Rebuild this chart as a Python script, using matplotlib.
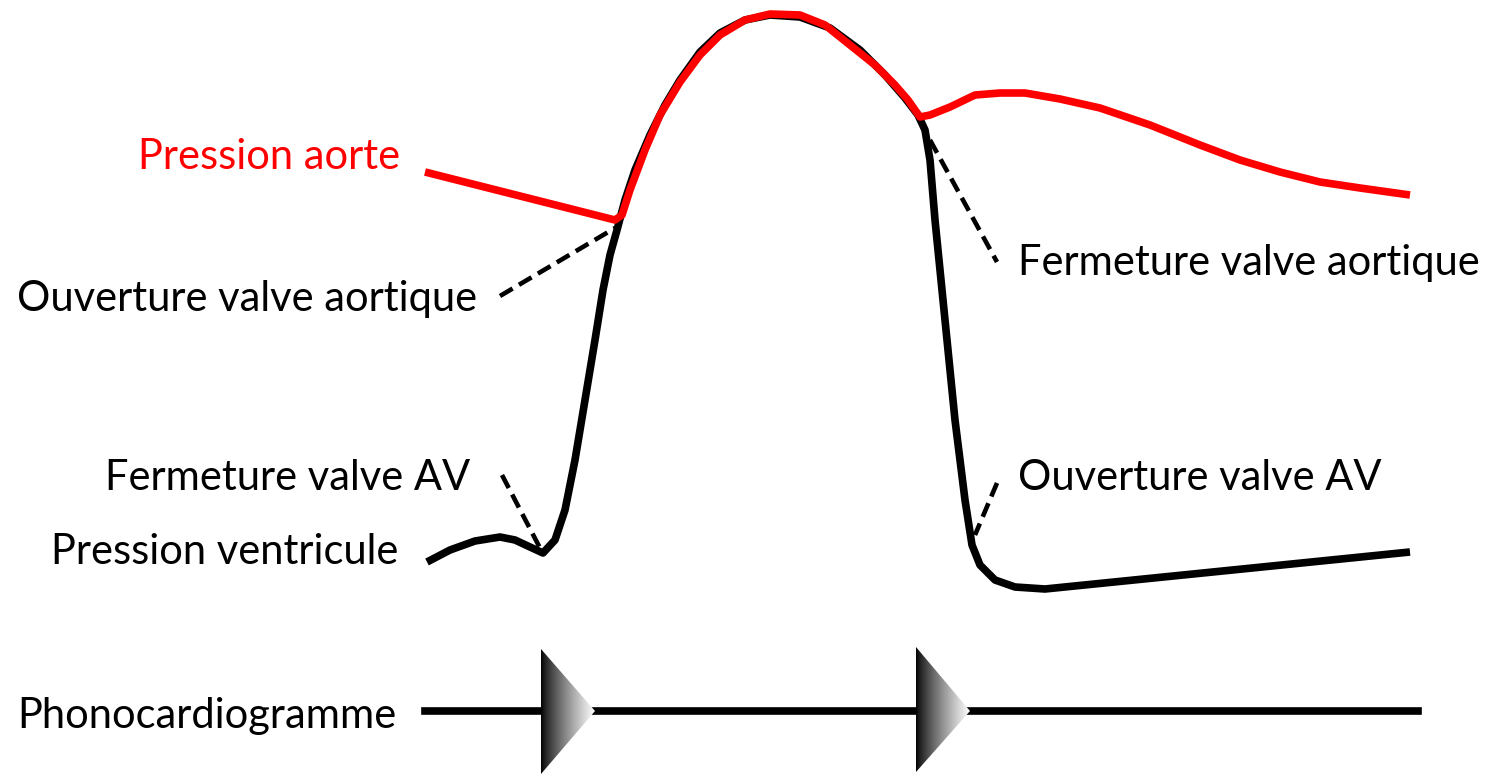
import numpy as np
import matplotlib.pyplot as plt
from matplotlib.patches import Polygon

plt.rcParams['font.family'] = ['Lato', 'DejaVu Sans']

# traced curves (pixel coordinates of the original picture, y downward)
ventricle_x = [427, 450, 475, 500, 515, 530, 543, 555, 565, 575, 585, 595, 603, 610,
               617, 625, 635, 650, 665, 680, 700, 720, 745, 770, 800, 830, 860, 885,
               905, 918, 925, 930, 935, 945, 955, 965, 972, 980, 995, 1015, 1045, 1410]
ventricle_y = [562, 550, 541, 537, 540, 547, 553, 540, 510, 460, 400, 340, 290, 255,
               230, 200, 170, 135, 105, 80, 52, 33, 20, 15, 17, 28, 50, 75,
               98, 115, 130, 160, 220, 320, 420, 500, 545, 565, 580, 587, 589, 552]

aorta_x = [425, 615, 622, 630, 645, 660, 680, 700, 720, 745, 770, 800, 825, 850, 875,
           895, 908, 915, 920, 930, 950, 975, 1000, 1025, 1060, 1100, 1150, 1200,
           1240, 1280, 1320, 1360, 1410]
aorta_y = [172, 220, 215, 190, 150, 115, 82, 55, 35, 20, 14, 15, 25, 45, 65,
           85, 100, 110, 117, 115, 107, 95, 93, 93, 99, 108, 125, 145,
           160, 172, 182, 188, 195]

# dashed pointer lines: (x0, y0, x1, y1)
pointers = [(500, 296, 615, 228), (930, 140, 997, 262),
            (502, 475, 540, 548), (997, 483, 975, 535)]

# labels: text, x, y, alignment, colour
labels = [("Pression aorte", 400, 157, 'right', 'red'),
          ("Ouverture valve aortique", 17, 299, 'left', 'black'),
          ("Fermeture valve aortique", 1018, 263, 'left', 'black'),
          ("Fermeture valve AV", 470, 478, 'right', 'black'),
          ("Pression ventricule", 398, 552, 'right', 'black'),
          ("Ouverture valve AV", 1018, 478, 'left', 'black'),
          ("Phonocardiogramme", 17, 716, 'left', 'black')]

phono_y = 711
phono_x = [425, 1418]
# heart sound markers: left edge x, apex x, top y, bottom y
sounds = [(541, 595, 649, 774), (916, 970, 647, 772)]

fig = plt.figure(figsize=(14.88, 7.74), dpi=100)
ax = fig.add_axes([0, 0, 1, 1])
ax.set_xlim(0, 1488)
ax.set_ylim(774, 0)
ax.axis('off')

ax.plot(ventricle_x, ventricle_y, color='black', lw=5.5, solid_joinstyle='round',
        solid_capstyle='butt', zorder=3)
ax.plot(aorta_x, aorta_y, color='red', lw=5.5, solid_joinstyle='round',
        solid_capstyle='butt', zorder=4)

for x0, y0, x1, y1 in pointers:
    ax.plot([x0, x1], [y0, y1], color='black', lw=3.3, linestyle=(0, (3.2, 1.6)), zorder=2)

for txt, x, y, ha, col in labels:
    ax.text(x, y, txt, ha=ha, va='center', color=col, fontsize=30)

ax.plot(phono_x, [phono_y, phono_y], color='black', lw=5.5, zorder=2)

grad = np.linspace(0, 1, 256).reshape(1, -1) ** 0.8
for xl, xa, yt, yb in sounds:
    tri = Polygon([(xl, yt), (xa, phono_y), (xl, yb)], closed=True,
                  facecolor='none', edgecolor='none')
    ax.add_patch(tri)
    im = ax.imshow(grad, cmap='gray', extent=(xl, xa, yb, yt), aspect='auto',
                   zorder=5, interpolation='bilinear')
    im.set_clip_path(tri)

ax.set_xlim(0, 1488)
ax.set_ylim(774, 0)

fig.savefig('out.png', dpi=100)
